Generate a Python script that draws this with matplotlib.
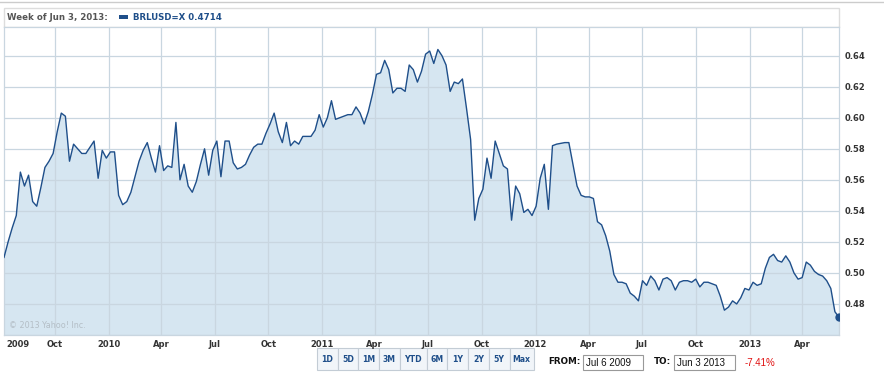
import matplotlib.pyplot as plt
import matplotlib.dates as mdates
from matplotlib.patches import Rectangle
import pandas as pd

# Cierre semanal BRL/USD, semanas desde el 6 jul 2009 hasta el 3 jun 2013
inicio = '2009-07-06'
valores = [
    0.510, 0.520, 0.529, 0.537, 0.565, 0.556, 0.563, 0.546, 0.543, 0.555,
    0.568, 0.572, 0.577, 0.591, 0.603, 0.601, 0.572, 0.583, 0.580, 0.577,
    0.577, 0.581, 0.585, 0.561, 0.579, 0.574, 0.578, 0.578, 0.550, 0.544,
    0.546, 0.552, 0.562, 0.572, 0.579, 0.584, 0.574, 0.565, 0.582, 0.566,
    0.569, 0.568, 0.597, 0.560, 0.570, 0.556, 0.552, 0.559, 0.570, 0.580,
    0.563, 0.579, 0.585, 0.562, 0.585, 0.585, 0.571, 0.567, 0.568, 0.570,
    0.576, 0.581, 0.583, 0.583, 0.590, 0.596, 0.603,
    0.591, 0.584, 0.597, 0.582, 0.585, 0.583, 0.588, 0.588, 0.588, 0.592,
    0.602, 0.594, 0.600, 0.611, 0.599, 0.600, 0.601, 0.602, 0.602, 0.607,
    0.603, 0.596, 0.604, 0.615, 0.628, 0.629, 0.637, 0.631, 0.616, 0.619,
    0.619, 0.617, 0.634, 0.631, 0.623, 0.630, 0.641, 0.643, 0.635, 0.644,
    0.640, 0.634, 0.617, 0.623, 0.622, 0.625, 0.606, 0.586, 0.534, 0.548,
    0.554, 0.574, 0.561, 0.585, 0.577, 0.569, 0.567, 0.534, 0.556, 0.551,
    0.539, 0.541, 0.537, 0.543, 0.561, 0.570, 0.541, 0.582, 0.583,
    0.5835, 0.584, 0.584, 0.570, 0.556, 0.550, 0.549, 0.549, 0.548, 0.533,
    0.531, 0.524, 0.514, 0.499, 0.494, 0.494, 0.493, 0.487, 0.485, 0.482,
    0.495, 0.492, 0.498, 0.495, 0.489, 0.496, 0.497, 0.495, 0.489, 0.494,
    0.495, 0.495, 0.494, 0.496, 0.491, 0.494, 0.494, 0.493, 0.492, 0.485,
    0.476, 0.478, 0.482, 0.480, 0.484, 0.490, 0.489, 0.494, 0.492, 0.493,
    0.503, 0.510, 0.512, 0.508, 0.507, 0.511, 0.507, 0.500, 0.496, 0.497,
    0.507, 0.505, 0.501, 0.499, 0.498, 0.495, 0.490, 0.475, 0.4714,
]
ticks_y = [0.48, 0.50, 0.52, 0.54, 0.56, 0.58, 0.60, 0.62, 0.64]
meses = {1: None, 4: 'Apr', 7: 'Jul', 10: 'Oct'}
botones = ['1D', '5D', '1M', '3M', 'YTD', '6M', '1Y', '2Y', '5Y', 'Max']
titulo = 'Week of Jun 3, 2013:'
serie = 'BRLUSD=X 0.4714'
desde, hasta, cambio = 'Jul 6 2009', 'Jun 3 2013', '-7.41%'

AZUL = '#1f4f8a'
RELLENO = '#d6e6f1'
REJILLA = '#c9d6e0'
W, H = 884, 375


def capa_pixeles(fig):
    """Eje transparente en coordenadas de pixel para el marco y los botones."""
    ov = fig.add_axes([0, 0, 1, 1])
    ov.set_xlim(0, W)
    ov.set_ylim(H, 0)
    ov.axis('off')
    return ov


def dibujar_marco(ov):
    ov.plot([0, W], [2, 2], color='#cccccc', lw=1)
    ov.add_patch(Rectangle((4, 8), 835, 19, fill=False, ec='#dddddd', lw=1))
    ov.text(7, 17.5, titulo, fontsize=6.2, fontweight='bold', color='#555555', va='center')
    ov.add_patch(Rectangle((119, 14.5), 9, 4.5, fc=AZUL, ec='none'))
    ov.text(133, 17.5, serie, fontsize=6.2, fontweight='bold', color=AZUL, va='center')


def dibujar_botones(ov):
    x = 317
    for b in botones:
        ancho = 27 if b == 'YTD' else (24 if b == 'Max' else 20.7)
        ov.add_patch(Rectangle((x, 348), ancho, 22, fc='#f1f5f9', ec='#c3ccd5', lw=0.8))
        ov.text(x + ancho / 2, 359.5, b, fontsize=5.6, fontweight='bold', color=AZUL,
                ha='center', va='center')
        x += ancho
    ov.text(548, 362, 'FROM:', fontsize=6.3, fontweight='bold', color='#111111', va='center')
    ov.add_patch(Rectangle((583, 355), 60, 15, fc='white', ec='#999999', lw=0.8))
    ov.text(586, 362.5, desde, fontsize=7, family='Liberation Sans', color='#111111', va='center')
    ov.text(654, 362, 'TO:', fontsize=6.3, fontweight='bold', color='#111111', va='center')
    ov.add_patch(Rectangle((674, 355), 61, 15, fc='white', ec='#999999', lw=0.8))
    ov.text(677, 362.5, hasta, fontsize=7, family='Liberation Sans', color='#111111', va='center')
    ov.text(745, 362.5, cambio, fontsize=7, family='Liberation Sans', color='#e01010', va='center')


def dibujar_serie(ax, fechas, valores):
    ax.fill_between(fechas, valores, 0.40, color=RELLENO, lw=0, zorder=1)
    ax.plot(fechas, valores, color=AZUL, lw=1.0, zorder=3)
    ax.plot(fechas[-1:], valores[-1:], 'o', color=AZUL, ms=5, zorder=4)

    ax.set_xlim(fechas[0], fechas[-1])
    ax.set_ylim(0.46, 0.6585)

    ax.yaxis.tick_right()
    ax.set_yticks(ticks_y)
    ax.set_yticklabels(['%.2f' % v for v in ticks_y])
    ax.set_yticks([0.46 + 0.02 * i for i in range(10)], minor=True)
    ax.yaxis.grid(True, which='both', color=REJILLA, lw=0.9, zorder=2)

    ax.xaxis.set_major_locator(mdates.MonthLocator(bymonth=[1, 4, 7, 10]))
    ax.xaxis.set_major_formatter(plt.FuncFormatter(
        lambda v, p: mdates.num2date(v).strftime('%Y') if mdates.num2date(v).month == 1
        else meses[mdates.num2date(v).month]))
    ax.xaxis.grid(True, color=REJILLA, lw=0.9, zorder=2)
    ax.set_axisbelow(False)

    ax.tick_params(axis='both', which='both', length=0, labelsize=6, labelcolor='#333333')
    ax.tick_params(axis='y', pad=4)
    ax.tick_params(axis='x', pad=3.5)
    for t in ax.get_xticklabels() + ax.get_yticklabels():
        t.set_fontweight('bold')
    for s in ax.spines.values():
        s.set_color(REJILLA)
        s.set_linewidth(0.9)

    ax.text(2 / 835, -4.9 / 308, '2009', transform=ax.transAxes, fontsize=6, fontweight='bold',
            color='#333333', va='top', ha='left')
    ax.text(5 / 835, 10 / 308, '\u00a9 2013 Yahoo! Inc.', transform=ax.transAxes, fontsize=5.8,
            color='#b4bec6', va='center', zorder=5)


if __name__ == "__main__":
    fechas = pd.date_range(inicio, periods=len(valores), freq='7D')

    fig = plt.figure(figsize=(W / 100, H / 100), dpi=100)
    ov = capa_pixeles(fig)
    dibujar_marco(ov)
    dibujar_botones(ov)

    ax = fig.add_axes([4 / W, 40 / H, 835 / W, 308 / H])
    dibujar_serie(ax, fechas, valores)

    fig.savefig('out.png', dpi=100)
